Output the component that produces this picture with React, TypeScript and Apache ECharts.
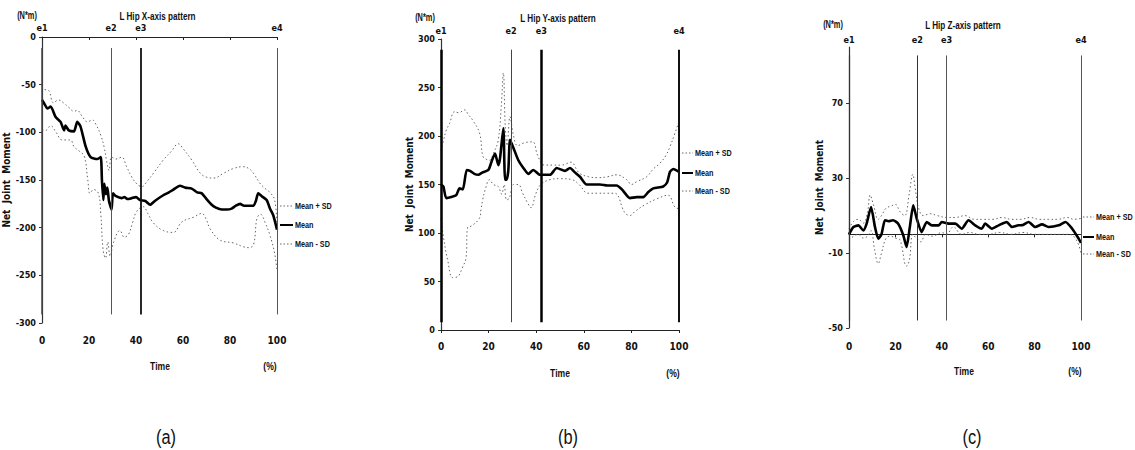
import React, { useEffect, useRef } from "react";
import * as echarts from "echarts";

// ---------- data ----------
const timeTicks = [0, 20, 40, 60, 80, 100];
const eventNames = ["e1", "e2", "e3", "e4"];
const eventTimes = [0, 29.4, 42.1, 100];
const seriesNames = ["Mean + SD", "Mean", "Mean - SD"];
const panelTitles = ["L Hip X-axis pattern", "L Hip Y-axis pattern", "L Hip Z-axis pattern"];
const panelTags = ["(a)", "(b)", "(c)"];

const aYTicks = [-300, -250, -200, -150, -100, -50, 0];
const bYTicks = [0, 50, 100, 150, 200, 250, 300];
const cYTicks = [-50, -10, 30, 70];

const aMean: [number, number][] = [
  [0, -66], [1, -70], [2.3, -75], [3.7, -73], [5.8, -84], [7.9, -89], [9.4, -98], [10, -93],
  [11.4, -98], [13.6, -99], [15, -89], [16.4, -94], [18.6, -115], [20.7, -126], [23.6, -128],
  [25, -126], [25.5, -150], [26.1, -171], [26.5, -154], [27.2, -165], [27.8, -158], [28.5, -172],
  [29.6, -181], [30.2, -164], [31.5, -167], [33.9, -169], [35, -168], [36.5, -170], [38.2, -169],
  [40, -168], [41.7, -171], [44, -172], [46, -176], [48, -172], [51.6, -166], [54, -163],
  [55.9, -160], [58.7, -156], [61, -158], [63.7, -159], [66, -163], [68, -164], [70, -170],
  [72.2, -176], [74, -179], [76.5, -181], [78.6, -181], [80.7, -180], [82.5, -177], [84.3, -175],
  [86, -177], [90, -177], [91, -172], [92, -164], [93.5, -167], [95.6, -171], [97, -180],
  [98.4, -187], [100, -202],
];
const aUpper: [number, number][] = [
  [0, -52], [1, -55], [2.8, -56], [4.9, -69], [7, -66], [9.1, -69], [11.5, -74], [13.6, -78],
  [15, -77], [17, -83], [19.3, -89], [21.4, -87], [23, -92], [25, -103], [26.4, -115],
  [27.5, -130], [28.5, -140], [29.6, -126], [31.5, -128], [33.9, -126], [36, -136], [38, -146],
  [40.3, -154], [42.5, -157], [44.5, -152], [47.4, -143], [51.6, -129], [55, -120], [58, -112],
  [60, -117], [63.7, -129], [67.4, -143], [70, -147], [73, -148], [77.2, -143], [81.4, -138],
  [85.7, -136], [88, -138], [90, -143], [92.9, -154], [95.5, -160], [97, -163], [99, -171],
  [100, -198],
];
const aLower: [number, number][] = [
  [0, -97], [1.5, -98], [3.7, -93], [6, -100], [8.6, -108], [12.1, -108], [13.6, -115],
  [16, -120], [18, -125], [19.5, -150], [20.4, -164], [22, -160], [24, -164], [25, -185],
  [26, -223], [27, -232], [28, -215], [29, -230], [30.5, -215], [33.2, -203], [35, -210],
  [36.8, -207], [38.5, -195], [40.3, -183], [43.1, -178], [45, -185], [47.4, -195], [51.6, -203],
  [55.9, -205], [59.5, -194], [64.5, -189], [68, -185], [70, -192], [71.5, -201], [75.7, -213],
  [81.4, -216], [85.7, -220], [88, -221], [90, -218], [91.5, -190], [93, -186], [95, -195],
  [97, -208], [99, -227], [100, -245],
];

const bMean: [number, number][] = [
  [0, 150], [1, 148], [2.2, 136], [4.3, 137], [6.4, 139], [7.8, 146], [9.2, 145], [10.8, 165],
  [12.2, 164], [14, 161], [15.7, 160], [17.1, 162], [19.9, 165], [21.3, 174], [22.7, 182],
  [24.1, 170], [24.8, 177], [26.2, 208], [26.6, 175], [26.9, 155], [27.6, 155], [28.3, 165],
  [29, 196], [30.4, 188], [32.5, 175], [34.6, 167], [36.7, 161], [38.8, 165], [41.6, 160],
  [45.8, 160], [48.6, 167], [52.1, 164], [54.2, 167], [56, 163], [58.4, 158], [61.2, 150],
  [64, 150], [66.8, 150], [70, 149], [73.8, 149], [76, 145], [79.4, 136], [82.2, 137], [85, 137],
  [87, 142], [89.2, 146], [93.4, 148], [95, 152], [96.2, 163], [97.6, 166], [100, 163],
];
const bUpper: [number, number][] = [
  [0, 185], [1, 195], [2.2, 206], [3.6, 213], [5.7, 225], [7.5, 224], [9.9, 227], [11.5, 222],
  [13.4, 216], [16.2, 203], [17.6, 179], [19, 176], [20.4, 175], [22, 182], [24, 195],
  [25.3, 230], [26.2, 265], [27, 210], [27.8, 190], [29, 220], [30.5, 200], [32.2, 190],
  [35, 193], [38.5, 194], [40.6, 180], [43.4, 170], [47, 170], [50.7, 170], [54.6, 173],
  [58, 162], [62, 158], [66, 157], [70, 158], [73.8, 160], [78, 155], [80, 150], [82.3, 153],
  [86.4, 158], [89.2, 166], [92, 172], [94.5, 180], [96.2, 189], [98.3, 203], [100, 215],
];
const bLower: [number, number][] = [
  [0, 115], [1.4, 90], [2.8, 72], [4.9, 54], [7, 55], [9.1, 65], [10.5, 74], [11.2, 106],
  [12.6, 107], [16.1, 115], [16.8, 124], [17.5, 134], [18.5, 144], [20.4, 155], [22, 150],
  [24, 148], [25.5, 140], [26.5, 150], [27.6, 134], [28.7, 136], [30.5, 150], [32.5, 150],
  [34.3, 141], [36.4, 131], [37.8, 126], [39.9, 141], [42, 150], [45.8, 155], [50, 156],
  [55, 155], [58, 150], [61.8, 141], [66, 141], [70, 141], [73, 141], [77.2, 121], [79.4, 118],
  [81.4, 122], [85.6, 129], [90.5, 135], [95.4, 139], [98.2, 127], [100, 125],
];

const cMean: [number, number][] = [
  [0, 0], [1.9, 3.9], [4, 4.8], [6.2, 2.1], [7.6, 5.7], [9.5, 14.6], [11.2, 3.9], [12.6, -2.3],
  [14, 0], [15.5, 7.5], [17, 7], [19, 7.5], [21.2, 5.7], [23.4, -0.5], [24.8, -6.8], [26.2, 3.7],
  [27.7, 15.5], [29.2, 8.4], [31.3, 1.2], [33.5, 6.6], [35.7, 4.8], [38.6, 4.8], [40, 6.6],
  [42.9, 5.7], [45.8, 5.7], [48.6, 3], [51.5, 7.5], [54.4, 4.8], [57.2, 3], [58.7, 5.7],
  [61.6, 3], [64.5, 4.8], [68, 6.6], [70.2, 3.9], [73, 4.8], [75, 5], [77.4, 6.6], [80.3, 3.9],
  [83.2, 5.3], [86, 3.9], [90.4, 4.8], [93.3, 6.6], [96.2, 3], [99, -2.3], [100, -4.5],
];
const cUpper: [number, number][] = [
  [0, 3], [2, 7], [4, 8], [6.2, 6], [8, 12], [9.1, 21], [10.5, 16], [12.6, 8], [14, 10],
  [16, 14], [18, 15], [20, 16], [22, 12], [24, 10], [26, 22], [27.5, 32], [28.5, 25], [30, 14],
  [32, 10], [35, 11], [38, 10], [42, 9], [46, 9], [50, 10], [54, 8], [58, 8], [62, 8], [66, 9],
  [70, 8], [74, 8], [78, 9], [82, 8], [86, 8], [90, 8], [94, 9], [97, 8], [100, 8.5],
];
const cLower: [number, number][] = [
  [0, -3], [2, -1], [4, 0], [6.2, -2], [8, -1], [9.5, 2], [11, -8], [12.6, -15.6], [14, -10],
  [16, -2], [18, -1], [20, -2], [22, -3], [24.8, -17], [26, -14], [27.5, 0], [29, -2], [31, -4],
  [33, 0], [36, -1], [40, 1], [42, 0], [45, 4], [48.5, 0], [52, 1], [56, 0], [60, 0], [65, 1],
  [70, 0], [75, 1], [80, 0], [85, 0], [90, 0], [95, 0], [98, -3], [100, -10],
];

// ---------- layout / style ----------
const NARROW = "'Liberation Sans Narrow','Arial Narrow','DejaVu Sans Condensed',sans-serif";
const SANS = "'Liberation Sans',Arial,sans-serif";

const panels = [
  {
    grid: { left: 42, top: 37, width: 235, height: 286 },
    yMin: -300, yMax: 0, yTicks: aYTicks,
    data: [aUpper, aMean, aLower],
    lineSpan: [-291, -11.5],
    eWidths: [1.5, 1, 1.8, 1], eColors: ["#444", "#555", "#111", "#555"],
    eLabelGap: 15, xMargin: 12, nameGap: 25,
    legend: { x: 280, w: 13, ys: [206, 225, 244] },
    titleY: 16, unitX: 27, timeX: 160, pctX: 270, footY: 366, tagX: 166,
  },
  {
    grid: { left: 441, top: 39, width: 238, height: 291 },
    yMin: 0, yMax: 300, yTicks: bYTicks,
    data: [bUpper, bMean, bLower],
    lineSpan: [8, 289],
    eWidths: [2.5, 1, 2.5, 2], eColors: ["#000", "#444", "#000", "#111"],
    eLabelGap: 14, xMargin: 11, nameGap: 24,
    legend: { x: 682, w: 11, ys: [153, 173, 191] },
    titleY: 18, unitX: 425, timeX: 560, pctX: 673, footY: 373, tagX: 568,
  },
  {
    grid: { left: 849, top: 47, width: 232, height: 281 },
    yMin: -50, yMax: 100, yTicks: cYTicks,
    data: [cUpper, cMean, cLower],
    lineSpan: [-46, 95.5],
    eWidths: [1.2, 1, 1, 1], eColors: ["#333", "#333", "#555", "#555"],
    eLabelGap: 11, xMargin: 13, nameGap: 22,
    legend: { x: 1083, w: 11, ys: [217, 237, 254] },
    titleY: 25, unitX: 833, timeX: 964, pctX: 1075, footY: 371, tagX: 972,
  },
];

const seriesStyles = [
  { color: "#666", width: 1, type: [1.5, 2.5] as any },
  { color: "#000", width: 2.6, type: "solid" as any },
  { color: "#666", width: 1, type: [1.5, 2.5] as any },
];

function buildOption() {
  const grid: any[] = [];
  const xAxis: any[] = [];
  const yAxis: any[] = [];
  const series: any[] = [];
  const graphic: any[] = [];

  const addText = (t: string, x: number, y: number, size: number, weight: string, sx: number, align = "center") => {
    graphic.push({
      type: "text",
      x,
      y,
      scaleX: sx,
      silent: true,
      style: {
        text: t,
        fill: "#111",
        font: `${weight} ${size}px ${SANS}`,
        align,
        verticalAlign: "middle",
      },
    });
  };

  panels.forEach((p, i) => {
    grid.push({ ...p.grid, containLabel: false });
    xAxis.push({
      type: "value",
      gridIndex: i,
      min: 0,
      max: 100,
      interval: 20,
      axisLine: { onZero: true, lineStyle: { color: "#222", width: 1 } },
      axisTick: { length: 3, lineStyle: { color: "#222" } },
      splitLine: { show: false },
      axisLabel: {
        margin: p.xMargin,
        fontSize: 10,
        fontFamily: NARROW,
        fontWeight: "bold",
        color: "#111",
        formatter: (v: number) => (timeTicks.includes(v) ? String(v) : ""),
      },
    });
    yAxis.push({
      type: "value",
      gridIndex: i,
      min: p.yMin,
      max: p.yMax,
      name: "Net  Joint  Moment",
      nameLocation: "middle",
      nameRotate: 90,
      nameGap: p.nameGap,
      nameTextStyle: { fontSize: 10, fontWeight: "bold", fontFamily: NARROW, color: "#111" },
      axisLine: { show: true, lineStyle: { color: "#333", width: 1.2 } },
      axisTick: { show: true, length: 3, customValues: p.yTicks, lineStyle: { color: "#333" } },
      splitLine: { show: false },
      axisLabel: {
        customValues: p.yTicks,
        margin: 6,
        fontSize: 9,
        fontFamily: NARROW,
        fontWeight: "bold",
        color: "#111",
      },
    });

    p.data.forEach((d, k) => {
      const s: any = {
        type: "line",
        name: seriesNames[k],
        xAxisIndex: i,
        yAxisIndex: i,
        data: d,
        showSymbol: false,
        symbol: "none",
        smooth: k === 1 ? 0.2 : 0.4,
        lineStyle: { ...seriesStyles[k] },
        itemStyle: { color: seriesStyles[k].color },
        z: k === 1 ? 4 : 3,
      };
      if (k === 1) {
        s.markLine = {
          silent: true,
          symbol: "none",
          animation: false,
          label: {
            show: true,
            position: "end",
            distance: p.eLabelGap,
            fontSize: 9,
            fontFamily: NARROW,
            fontWeight: "bold",
            color: "#111",
            formatter: "{b}",
          },
          data: eventTimes.map((t, j) => [
            {
              name: eventNames[j],
              coord: [t, p.lineSpan[0]],
              lineStyle: { color: p.eColors[j], width: p.eWidths[j], type: "solid" },
            },
            { coord: [t, p.lineSpan[1]] },
          ]),
        };
      }
      series.push(s);
    });

    // legend (drawn as graphic: line sample + text)
    seriesNames.forEach((nm, k) => {
      const y = p.legend.ys[k];
      graphic.push({
        type: "line",
        silent: true,
        shape: { x1: p.legend.x, y1: y, x2: p.legend.x + p.legend.w, y2: y },
        style: {
          stroke: seriesStyles[k].color,
          lineWidth: k === 1 ? 2 : 1,
          lineDash: k === 1 ? null : [1.5, 2],
        },
      });
      addText(nm, p.legend.x + p.legend.w + 2, y, 9.5, "bold", 0.76, "left");
    });

    const cx = p.grid.left + p.grid.width / 2;
    addText(panelTitles[i], cx - 2, p.titleY, 11, "bold", 0.74);
    addText("(N*m)", p.unitX, p.titleY, 10, "bold", 0.74);
    addText("Time", p.timeX, p.footY, 11, "bold", 0.78);
    addText("(%)", p.pctX, p.footY, 11, "bold", 0.78);
    addText(panelTags[i], p.tagX, 437, 21, "normal", 0.78);
  });

  return {
    animation: false,
    backgroundColor: "#fff",
    grid,
    xAxis,
    yAxis,
    series,
    graphic,
  };
}

export default function App() {
  const ref = useRef<HTMLDivElement>(null);
  useEffect(() => {
    if (!ref.current) return;
    const chart = echarts.init(ref.current, undefined, { renderer: "svg" });
    chart.setOption(buildOption() as any);
    return () => chart.dispose();
  }, []);
  return (
    <div
      ref={ref}
      style={{ position: "absolute", left: 0, top: 0, width: 1135, height: 450, background: "#fff" }}
    />
  );
}
